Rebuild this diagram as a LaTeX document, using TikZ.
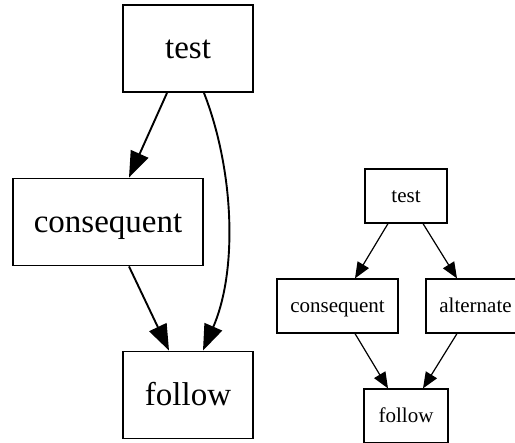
\documentclass[tikz,border=0pt]{standalone}
\usepackage{fontspec}
\setmainfont{Liberation Serif}
\usetikzlibrary{arrows.meta}
\tikzset{
  bigbox/.style={draw, line width=1.9pt, inner sep=0pt, text height=28.5pt, text depth=8pt, font=\fontsize{33}{40}\selectfont},
  smallbox/.style={draw, line width=1.2pt, inner sep=0pt, text height=18pt, text depth=5.5pt, font=\fontsize{21}{25}\selectfont},
  bigedge/.style={line width=1.9pt, -{Triangle[length=26pt,width=19pt]}},
  smalledge/.style={line width=1.2pt, -{Triangle[length=16pt,width=13pt]}}
}
\begin{document}
\begin{tikzpicture}[x=1pt,y=-1pt]
\useasboundingbox (0,0) rectangle (515,443);
\fill[white] (0,0) rectangle (515,443);
\clip (0,0) rectangle (515,443);
% left graph
\node[bigbox, minimum width=130pt, minimum height=87pt] (lt) at (188,48.5) {test};
\node[bigbox, minimum width=190pt, minimum height=87pt] (lc) at (108,222) {consequent};
\node[bigbox, minimum width=130pt, minimum height=87pt] (lf) at (188,395) {follow};
\draw[bigedge] ([xshift=-21pt]lt.south) -- ([xshift=21pt]lc.north);
\draw[bigedge] ([xshift=21pt]lc.south) -- ([xshift=-19pt]lf.north);
\draw[bigedge] ([xshift=16pt]lt.south) .. controls (234,170) and (238,270) .. ([xshift=15pt]lf.north);
% right graph
\node[smallbox, minimum width=82pt, minimum height=54pt] (rt) at (406,196) {test};
\node[smallbox, minimum width=121pt, minimum height=54pt] (rc) at (337.5,306) {consequent};
\node[smallbox, minimum width=99pt, minimum height=54pt] (ra) at (475.5,306) {alternate};
\node[smallbox, minimum width=84pt, minimum height=54pt] (rf) at (406,416) {follow};
\draw[smalledge] ([xshift=-18pt]rt.south) -- ([xshift=17.5pt]rc.north);
\draw[smalledge] ([xshift=17pt]rt.south) -- ([xshift=-18.5pt]ra.north);
\draw[smalledge] ([xshift=17.5pt]rc.south) -- ([xshift=-18pt]rf.north);
\draw[smalledge] ([xshift=-18.5pt]ra.south) -- ([xshift=17pt]rf.north);
\end{tikzpicture}
\end{document}
